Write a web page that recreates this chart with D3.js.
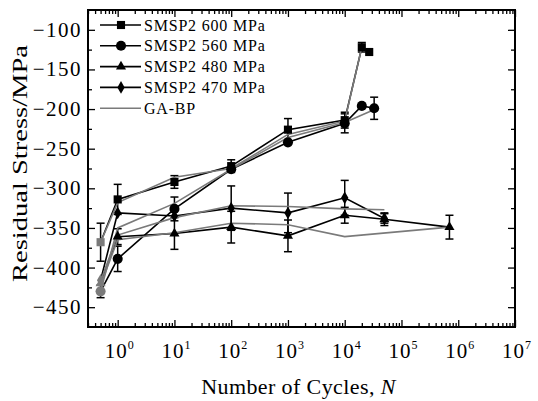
<!DOCTYPE html>
<html>
<head>
<meta charset="utf-8">
<script src="https://cdn.jsdelivr.net/npm/d3@7"></script>
<style>
  body { margin: 0; background: #fff; }
  svg text { font-family: "Liberation Serif", "Times New Roman", serif; fill: #000; }
</style>
</head>
<body>
<div class="svg-container"><svg class="stress"></svg></div>
<script>
// experimental points (cycles, stress, error bar half-height)
const cycles600 = [0.5, 1, 10, 100, 1000, 10000, 20000, 27000]
const stress600 = [-368, -314, -292, -272, -226, -214, -122, -128]
const err600 = [24, 19, 8, 8, 14, 10, 6, 0]

const cycles560 = [0.5, 1, 10, 100, 1000, 10000, 20000, 33000]
const stress560 = [-430, -389, -326, -276, -242, -218, -196, -199]
const err560 = [8, 16, 15, 0, 0, 12, 0, 14]

const cycles480 = [0.5, 1, 10, 100, 1000, 10000, 50000, 700000]
const stress480 = [-420, -361, -357, -349, -360, -334, -339, -349]
const err480 = [0, 10, 20, 20, 20, 10, 8, 15]

const cycles470 = [0.5, 1, 10, 100, 1000, 10000, 50000]
const stress470 = [-416, -331, -335, -325, -331, -312, -338]
const err470 = [0, 0, 0, 28, 25, 22, 6]

// GA-BP predictions
const gaCycles600 = [0.5, 1, 10, 100, 1000, 10000, 20000]
const gaStress600 = [-368, -318, -286, -275, -232, -215, -122]
const gaCycles560 = [0.5, 1, 10, 100, 1000, 10000, 35000]
const gaStress560 = [-430, -350, -319, -276, -236, -217, -200]
const gaCycles480 = [0.5, 1, 10, 100, 1000, 10000, 700000]
const gaStress480 = [-422, -365, -356, -344, -346, -361, -349]
const gaCycles470 = [0.5, 1, 10, 100, 1000, 10000, 50000]
const gaStress470 = [-417, -359, -337, -322, -323, -326, -327]

const legendLabels = ['SMSP2 600 MPa', 'SMSP2 560 MPa', 'SMSP2 480 MPa', 'SMSP2 470 MPa', 'GA-BP']
const yTickValues = [-450, -400, -350, -300, -250, -200, -150, -100]
const xTickExponents = [0, 1, 2, 3, 4, 5, 6, 7]

const zip = (xs, ys, es) => xs.map((x, i) => ({x: x, y: ys[i], e: es ? es[i] : 0, i: i}))

const experiments = [
  {name: legendLabels[0], symbol: d3.symbolSquare, size: 66, pts: zip(cycles600, stress600, err600)},
  {name: legendLabels[1], symbol: d3.symbolCircle, size: 80, pts: zip(cycles560, stress560, err560)},
  {name: legendLabels[2], symbol: d3.symbolTriangle, size: 44, pts: zip(cycles480, stress480, err480)},
  {name: legendLabels[3], symbol: d3.symbolDiamond, size: 46, pts: zip(cycles470, stress470, err470)}
]
const predictions = [
  zip(gaCycles600, gaStress600),
  zip(gaCycles560, gaStress560),
  zip(gaCycles480, gaStress480),
  zip(gaCycles470, gaStress470)
]

const WIDTH = 538, HEIGHT = 401
const LEFT = 88, RIGHT = 515, TOP = 10, BOTTOM = 327
const GREY = '#7a7a7a'

const chartSvg = d3.select('svg.stress')
  .attr('width', WIDTH)
  .attr('height', HEIGHT)

const xScale = d3.scaleLog().domain([0.3, 1e7]).range([LEFT, RIGHT])
const yScale = d3.scaleLinear().domain([-475, -75]).range([BOTTOM, TOP])

// minor ticks
const xMinor = []
for (let d = -1; d <= 6; d++) {
  for (let k = 2; k <= 9; k++) {
    const v = k * Math.pow(10, d)
    if (v > 0.3 && v < 1e7) xMinor.push(v)
  }
}
const yMinor = d3.range(-425, -75, 50)
const xMajor = xTickExponents.map(p => Math.pow(10, p))

// AXES - all ticks point inward
const tickAxis = (gen, vals, size) => gen.tickValues(vals).tickSize(size).tickFormat('')

const axes = chartSvg.append('g').attr('class', 'axes')
axes.append('g').attr('transform', 'translate(0,' + BOTTOM + ')')
  .call(tickAxis(d3.axisTop(xScale), xMajor, 7))
axes.append('g').attr('transform', 'translate(0,' + BOTTOM + ')')
  .call(tickAxis(d3.axisTop(xScale), xMinor, 4))
axes.append('g').attr('transform', 'translate(0,' + TOP + ')')
  .call(tickAxis(d3.axisBottom(xScale), xMajor, 7))
axes.append('g').attr('transform', 'translate(0,' + TOP + ')')
  .call(tickAxis(d3.axisBottom(xScale), xMinor, 4))
axes.append('g').attr('transform', 'translate(' + LEFT + ',0)')
  .call(tickAxis(d3.axisRight(yScale), yTickValues, 7))
axes.append('g').attr('transform', 'translate(' + LEFT + ',0)')
  .call(tickAxis(d3.axisRight(yScale), yMinor, 4))
axes.append('g').attr('transform', 'translate(' + RIGHT + ',0)')
  .call(tickAxis(d3.axisLeft(yScale), yTickValues, 7))
axes.append('g').attr('transform', 'translate(' + RIGHT + ',0)')
  .call(tickAxis(d3.axisLeft(yScale), yMinor, 4))
axes.selectAll('.domain').remove()
axes.selectAll('.tick line').attr('stroke', '#000').attr('stroke-width', 1.3)

chartSvg.append('rect')
  .attr('x', LEFT).attr('y', TOP)
  .attr('width', RIGHT - LEFT).attr('height', BOTTOM - TOP)
  .attr('fill', 'none').attr('stroke', '#000').attr('stroke-width', 2)

// tick labels
chartSvg.append('g').selectAll('text')
  .data(yTickValues)
  .join('text')
  .attr('x', LEFT - 6)
  .attr('y', d => yScale(d) + 7)
  .attr('text-anchor', 'end')
  .style('font-size', '21px')
  .style('letter-spacing', '1.5px')
  .text(d => '\u2212' + Math.abs(d))

const xLabels = chartSvg.append('g').selectAll('text')
  .data(xTickExponents)
  .join('text')
  .attr('x', d => xScale(Math.pow(10, d)) - 13)
  .attr('y', 358)
  .style('font-size', '21px')
  .style('letter-spacing', '1px')
xLabels.append('tspan').text('10')
xLabels.append('tspan')
  .attr('dy', -9)
  .style('font-size', '12px')
  .text(d => d)

// axis titles (the y title is stretched along its length, as in the source)
chartSvg.append('text')
  .attr('transform', 'translate(27,' + ((TOP + BOTTOM) / 2 - 5) + ') rotate(-90) scale(1.36,1)')
  .attr('text-anchor', 'middle')
  .style('font-size', '21px')
  .text('Residual Stress/MPa')

const xTitle = chartSvg.append('text')
  .attr('x', (LEFT + RIGHT) / 2 - 3)
  .attr('y', 394)
  .attr('text-anchor', 'middle')
  .style('font-size', '22px')
  .style('letter-spacing', '0.4px')
xTitle.append('tspan').text('Number of Cycles, ')
xTitle.append('tspan').style('font-style', 'italic').text('N')

const line = d3.line().x(d => xScale(d.x)).y(d => yScale(d.y))

// experimental lines, error bars and markers
const plot = chartSvg.append('g')
experiments.forEach(s => {
  plot.append('path')
    .attr('d', line(s.pts))
    .attr('fill', 'none')
    .attr('stroke', '#000')
    .attr('stroke-width', 1.6)
})

experiments.forEach(s => {
  const bars = plot.append('g').selectAll('g')
    .data(s.pts.filter(d => d.e > 0))
    .join('g')
    .attr('stroke', '#000')
    .attr('stroke-width', 1.5)
  bars.append('line')
    .attr('x1', d => xScale(d.x)).attr('x2', d => xScale(d.x))
    .attr('y1', d => yScale(d.y - d.e)).attr('y2', d => yScale(d.y + d.e))
  bars.append('line')
    .attr('x1', d => xScale(d.x) - 4).attr('x2', d => xScale(d.x) + 4)
    .attr('y1', d => yScale(d.y + d.e)).attr('y2', d => yScale(d.y + d.e))
  bars.append('line')
    .attr('x1', d => xScale(d.x) - 4).attr('x2', d => xScale(d.x) + 4)
    .attr('y1', d => yScale(d.y - d.e)).attr('y2', d => yScale(d.y - d.e))
})

predictions.forEach(p => {
  plot.append('path')
    .attr('d', line(p))
    .attr('fill', 'none')
    .attr('stroke', GREY)
    .attr('stroke-width', 1.6)
})

experiments.forEach(s => {
  plot.append('g').selectAll('path')
    .data(s.pts)
    .join('path')
    .attr('transform', d => 'translate(' + xScale(d.x) + ',' + yScale(d.y) + ')')
    .attr('d', d3.symbol().type(s.symbol).size(s.size))
    .attr('fill', d => d.i === 0 ? GREY : '#000')
})

// LEGEND
const legend = chartSvg.append('g')
const legendRows = legend.selectAll('g')
  .data(legendLabels)
  .join('g')
  .attr('transform', (d, i) => 'translate(100,' + (25 + i * 20.8) + ')')
legendRows.append('line')
  .attr('x1', 0).attr('x2', 41)
  .attr('stroke', (d, i) => i < 4 ? '#000' : GREY)
  .attr('stroke-width', 1.6)
legendRows.filter((d, i) => i < 4).append('path')
  .attr('transform', 'translate(21,0)')
  .attr('d', (d, i) => d3.symbol().type(experiments[i].symbol).size(experiments[i].size)())
  .attr('fill', '#000')
legendRows.append('text')
  .attr('x', 44)
  .attr('y', 5.5)
  .style('font-size', '16px')
  .style('letter-spacing', '0.8px')
  .text(d => d)
</script>
</body>
</html>
